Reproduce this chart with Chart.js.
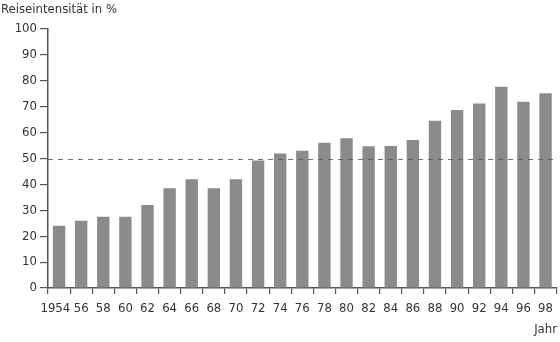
<!DOCTYPE html>
<html>
<head>
<meta charset="utf-8">
<script src="https://cdn.jsdelivr.net/npm/chart.js@4"></script>
<style>
  html, body { margin: 0; padding: 0; background: #fff; }
  #wrap { width: 560px; height: 342px; }
</style>
</head>
<body>
<div id="wrap"><canvas id="reiseChart"></canvas></div>
<script>
const years = ['1954', '56', '58', '60', '62', '64', '66', '68', '70', '72', '74', '76',
               '78', '80', '82', '84', '86', '88', '90', '92', '94', '96', '98'];
const intensity = [24, 26, 27.5, 27.5, 32, 38.5, 42, 38.5, 42, 49.2, 51.9, 53,
                   56.1, 57.8, 54.7, 54.8, 57.1, 64.6, 68.7, 71.2, 77.7, 71.9, 75.2];
const yTicks = [0, 10, 20, 30, 40, 50, 60, 70, 80, 90, 100];
const refLine = 50;

const FONT = "'DejaVu Sans Condensed', sans-serif";
const textColor = '#333';
const axisColor = '#555';

// dashed 50% line + titles
const extras = {
    id: 'extras',
    afterDatasetsDraw(chart) {
        const { ctx, chartArea, scales } = chart;
        const y = Math.round(scales.y.getPixelForValue(refLine)) + 0.5;
        ctx.save();
        ctx.strokeStyle = 'rgba(80,80,80,0.8)';
        ctx.lineWidth = 1;
        ctx.setLineDash([5, 5]);
        ctx.beginPath();
        ctx.moveTo(chartArea.left, y);
        ctx.lineTo(chartArea.right, y);
        ctx.stroke();
        ctx.restore();
    },
    afterDraw(chart) {
        const { ctx } = chart;
        ctx.save();
        ctx.fillStyle = textColor;
        ctx.font = '13px ' + FONT;
        ctx.textBaseline = 'middle';
        ctx.textAlign = 'left';
        ctx.fillText('Reiseintensität in %', 1, 10);
        ctx.textAlign = 'right';
        ctx.fillText('Jahr', 557, 330);
        ctx.restore();
    }
};

const ctx = document.getElementById('reiseChart').getContext('2d');
new Chart(ctx, {
    type: 'bar',
    data: {
        labels: years,
        datasets: [{
            data: intensity,
            backgroundColor: '#8b8b8b',
            borderWidth: 0,
            barPercentage: 0.56,
            categoryPercentage: 1
        }]
    },
    plugins: [extras],
    options: {
        responsive: true,
        maintainAspectRatio: false,
        animation: false,
        layout: { padding: { top: 29, right: 1, left: 0, bottom: 0 } },
        plugins: {
            legend: { display: false },
            tooltip: { enabled: false }
        },
        scales: {
            x: {
                offset: true,
                grid: {
                    offset: true,
                    drawOnChartArea: false,
                    tickLength: 6,
                    color: axisColor,
                    lineWidth: 1.2
                },
                border: { color: axisColor, width: 1.5 },
                ticks: {
                    color: textColor,
                    font: { family: FONT, size: 13 },
                    padding: 7,
                    maxRotation: 0,
                    autoSkip: false,
                    // nudge the long first label a bit to the left, as in the original
                    callback: (v, i) => i === 0 ? years[i] + '  ' : years[i]
                },
                afterFit(scale) { scale.height = 54; }
            },
            y: {
                min: 0,
                max: 100,
                afterBuildTicks(scale) {
                    scale.ticks = yTicks.map(v => ({ value: v }));
                },
                grid: {
                    drawOnChartArea: false,
                    tickLength: 8,
                    color: axisColor,
                    lineWidth: 1.2
                },
                border: { color: axisColor, width: 1.5 },
                ticks: {
                    color: textColor,
                    font: { family: FONT, size: 13 },
                    padding: 3
                },
                afterFit(scale) { scale.width = 48; }
            }
        }
    }
});
</script>
</body>
</html>
